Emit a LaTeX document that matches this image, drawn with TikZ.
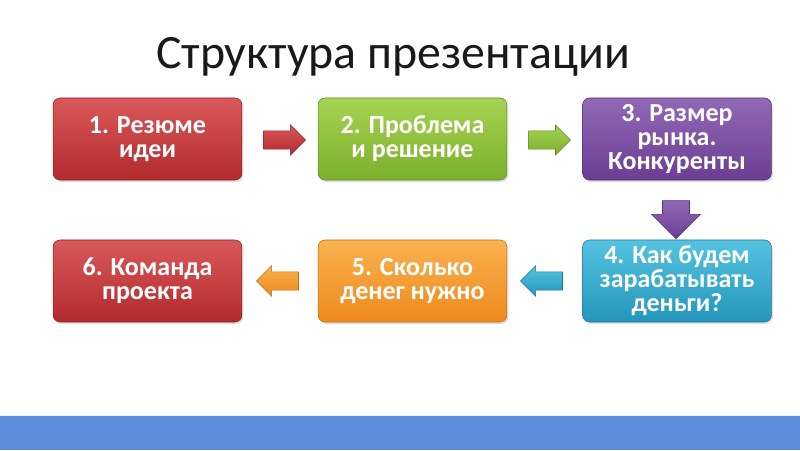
\documentclass[tikz,border=0pt]{standalone}
\usepackage{fontspec}
\setmainfont{Carlito}
\usetikzlibrary{shapes.arrows,shadows}

\definecolor{redtop}{HTML}{D9585A}\definecolor{redbot}{HTML}{B22A2E}
\definecolor{greentop}{HTML}{A6D352}\definecolor{greenbot}{HTML}{7BAF2C}
\definecolor{violettop}{HTML}{9169B5}\definecolor{violetbot}{HTML}{6A3E93}
\definecolor{cyantop}{HTML}{55C3E0}\definecolor{cyanbot}{HTML}{2496BC}
\definecolor{orangetop}{HTML}{F9B14F}\definecolor{orangebot}{HTML}{EE8A1E}
\definecolor{band}{HTML}{5B8BD9}

\begin{document}
\begin{tikzpicture}[x=0.025cm,y=-0.025cm,
	box/.style={rounded corners=5pt,minimum width=4.72cm,minimum height=2.05cm,
		align=center,text=white,font=\fontsize{18.5}{17}\selectfont\bfseries,
		draw=#1bot!80!black,line width=0.4pt,top color=#1top,bottom color=#1bot,
		drop shadow={opacity=0.25,shadow xshift=1pt,shadow yshift=-1.5pt}},
	pointer/.style={single arrow,inner xsep=0pt,inner ysep=0.22cm,
		single arrow head extend=0.15cm,single arrow head indent=0pt,
		minimum height=1.05cm,draw=#1bot!80!black,line width=0.4pt,
		top color=#1top,bottom color=#1bot}]
\useasboundingbox (0,0) rectangle (800,450);

\node (title) at (393,57){\fontsize{34}{36}\selectfont\color{black!90}Структура презентации};

% upper row
\node[box=red] (p1) at (147.5,139){1. Резюме\\идеи};
\node[box=green] (p2) at (412.5,139){2. Проблема\\и решение};
\node[box=violet] (p3) at (677,139){3. Размер\\рынка.\\Конкуренты};

% lower row
\node[box=cyan] (p4) at (677,281){4. Как будем\\зарабатывать\\деньги?};
\node[box=orange] (p5) at (412.5,281){5. Сколько\\денег нужно};
\node[box=red] (p6) at (147.5,281){6. Команда\\проекта};

% arrows
\node[pointer=red] (a12) at (280,140){};
\node[pointer=green] (a23) at (545,140){};
\node[pointer=violet,rotate=-90,inner ysep=0.33cm,
	single arrow head extend=0.27cm,minimum height=0.95cm] (a34) at (676,213){};
\node[pointer=cyan,shape border rotate=180] (a45) at (546,281){};
\node[pointer=orange,shape border rotate=180] (a56) at (282,281){};

\fill[band] (0,416) rectangle (800,450);
\draw[white!85!band,line width=1pt] (0,415.5)--(800,415.5);
\end{tikzpicture}
\end{document}
